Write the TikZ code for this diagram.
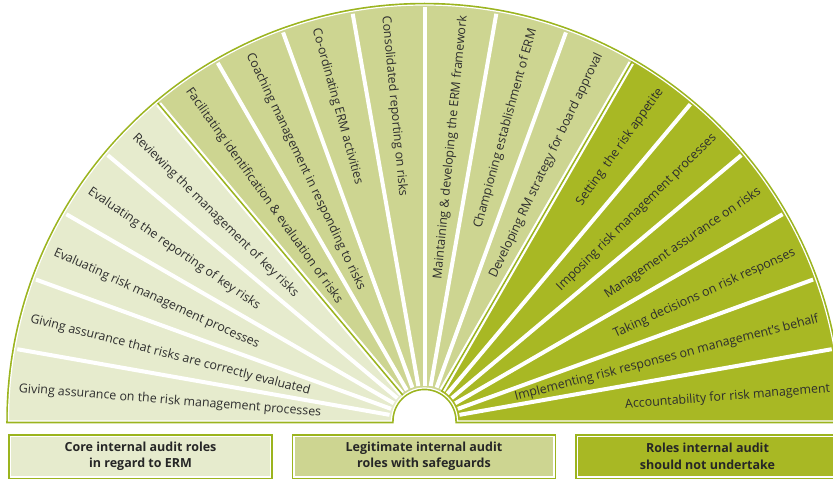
\documentclass[tikz,border=0pt]{standalone}
\usepackage{fontspec}
\setmainfont{Open Sans}
\usepackage{tikz}
\usetikzlibrary{positioning}
\definecolor{coreg}{RGB}{230,235,205}
\definecolor{legitg}{RGB}{205,213,145}
\definecolor{notg}{RGB}{168,184,36}
\definecolor{lineg}{RGB}{155,180,30}
\def\outr{416}
\def\innr{33}
\def\textr{407}

\begin{document}
\begin{tikzpicture}[x=1pt,y=1pt,font=\fontsize{12.4}{14}\selectfont]
	\tikzstyle{role}=[text=black!82, inner sep=0pt]
	\tikzstyle{gap}=[white, line width=4pt]
	\tikzstyle{border}=[white, line width=6pt]
	\tikzstyle{group}=[minimum width=260pt, minimum height=40.5pt, inner sep=0pt, outer sep=0pt,
		align=center, text=black!85, font=\fontsize{12.5}{16.5}\selectfont\bfseries,
		draw=white, line width=1.5pt, preaction={draw=lineg, line width=4.5pt}]
	\useasboundingbox (0,0) rectangle (833,480);
	\clip (0,0) rectangle (833,480);

	\begin{scope}[shift={(424.5,59)}]
	% Draw the green outline of the fan
	\draw[lineg, line width=4.5pt] (180:\outr) arc (180:0:\outr) -- (0:\innr) arc (0:180:\innr) -- cycle;
	% Fill the three groups of roles
	\fill[notg] (0:\innr) -- (0:\outr) arc (0:60:\outr) -- (60:\innr) arc (60:0:\innr) -- cycle;
	\fill[legitg] (60:\innr) -- (60:\outr) arc (60:130:\outr) -- (130:\innr) arc (130:60:\innr) -- cycle;
	\fill[coreg] (130:\innr) -- (130:\outr) arc (130:180:\outr) -- (180:\innr) arc (180:130:\innr) -- cycle;
	% White gaps between the roles
	\foreach \a in {10,20,...,50,70,80,...,120,140,150,...,170}
	\draw[gap] (\a:\innr+2.5) -- (\a:\outr-2.5);
	% Lines between the groups
	\foreach \a in {60,130} {
	\draw[border] (\a:\innr+2.5) -- (\a:\outr-2.5);
	\draw[lineg, line width=1.5pt] (\a:\innr) -- (\a:\outr);
	}
	\draw[white, line width=1.2pt] (180:\outr) arc (180:0:\outr) -- (0:\innr) arc (0:180:\innr) -- cycle;

	% Roles on the left half, read towards the centre
	\foreach \name / \a / \t in {1/175.5/{Giving assurance on the risk management processes},
		2/165.5/{Giving assurance that risks are correctly evaluated},
		3/155.5/{Evaluating risk management processes},
		4/145.5/{Evaluating the reporting of key risks},
		5/135.5/{Reviewing the management of key risks},
		6/125.5/{Facilitating identification \& evaluation of risks},
		7/115.5/{Coaching management in responding to risks},
		8/105.5/{Co-ordinating ERM activities},
		9/95.5/{Consolidated reporting on risks}}
	\node[role, rotate=\a-180, anchor=west] (R-\name) at (\a:\textr) {\t};
	% Roles on the right half, read outwards
	\foreach \name / \a / \t in {10/84.5/{Maintaining \& developing the ERM framework},
		11/74.5/{Championing establishment of ERM},
		12/64.5/{Developing RM strategy for board approval},
		13/54.5/{Setting\ \ the risk appetite},
		14/44.5/{Imposing risk management processes},
		15/34.5/{Management assurance on risks},
		16/24.5/{Taking decisions on risk responses},
		17/14.5/{Implementing risk responses on management’s behalf},
		18/4.5/{Accountability for risk management}}
	\node[role, rotate=\a, anchor=east] (R-\name) at (\a:\textr) {\t};
	\end{scope}

	% Draw the legend boxes
	\node[group, fill=coreg] (core) at (140.5,23.5) {Core internal audit roles\\in regard to ERM};
	\node[group, fill=legitg, right=23.5pt of core] (legit) {Legitimate internal audit\\roles with safeguards};
	\node[group, fill=notg, right=23.5pt of legit] (not) {Roles internal audit\\should not undertake};
\end{tikzpicture}
\end{document}
